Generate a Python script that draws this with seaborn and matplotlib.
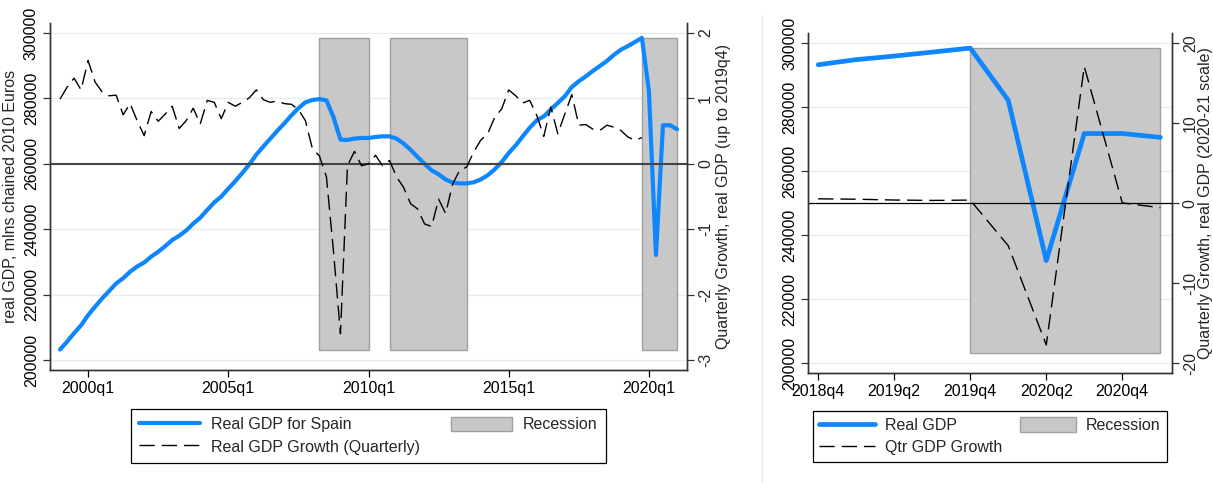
import numpy as np
import pandas as pd
import matplotlib
matplotlib.use("Agg")
import matplotlib.pyplot as plt
from matplotlib.patches import Patch
from matplotlib.lines import Line2D
import seaborn as sns

# ---------------- data ----------------
first_quarter = "1999q1"
gdp = [203200, 205600, 208200, 210600,
       213700, 216300, 218800, 221100,
       223400, 225000, 227000, 228600,
       229800, 231600, 233100, 234800,
       236700, 238000, 239600, 241700,
       243500, 245900, 248200, 250000,
       252400, 254700, 257200, 259800,
       262800, 265300, 267700, 270100,
       272400, 274800, 277000, 278800,
       279500, 279800, 279400, 274300,
       267400, 267300, 267700, 267900,
       267900, 268200, 268400, 268400,
       267700, 266200, 264300, 262100,
       260000, 258000, 256800, 255200,
       254250, 254000, 254000, 254350,
       255200, 256500, 258300, 260550,
       263300, 265650, 268400, 271050,
       273300, 274500, 276600, 278600,
       280650, 283500, 285250, 286750,
       288400, 289900, 291450, 293300,
       294900, 296000, 297250, 298500,
       282200, 232100, 271800, 271800,
       270600]
growth = [0.99, 1.17, 1.31, 1.13,
          1.58, 1.25, 1.10, 1.04,
          1.05, 0.75, 0.92, 0.66,
          0.43, 0.80, 0.65, 0.76,
          0.88, 0.54, 0.66, 0.85,
          0.61, 0.97, 0.94, 0.69,
          0.94, 0.88, 0.94, 1.01,
          1.13, 0.98, 0.94, 0.96,
          0.92, 0.91, 0.83, 0.66,
          0.23, 0.12, -0.20, -1.33,
          -2.60, -0.03, 0.19, -0.03,
          0.00, 0.13, -0.03, 0.05,
          -0.20, -0.36, -0.61, -0.69,
          -0.92, -0.96, -0.54, -0.76,
          -0.31, -0.10, -0.05, 0.18,
          0.36, 0.46, 0.71, 0.84,
          1.13, 1.04, 0.93, 0.97,
          0.74, 0.42, 0.87, 0.46,
          0.76, 1.06, 0.59, 0.60,
          0.53, 0.51, 0.59, 0.56,
          0.51, 0.41, 0.36, 0.40,
          -5.30, -17.70, 17.10, 0.05,
          -0.55]
recessions = [("2008q2", "2010q1"), ("2010q4", "2013q3"), ("2019q4", "2021q1")]
left_growth_end = "2019q4"
right_start = "2018q4"

left_xticks = ["2000q1", "2005q1", "2010q1", "2015q1", "2020q1"]
right_xticks = ["2018q4", "2019q2", "2019q4", "2020q2", "2020q4"]
gdp_ticks = [200000, 220000, 240000, 260000, 280000, 300000]
left_growth_ticks = [-3, -2, -1, 0, 1, 2]
right_growth_ticks = [-20, -10, 0, 10, 20]

left_ylabel = "real GDP, mlns chained 2010 Euros"
left_y2label = "Quarterly Growth, real GDP (up to 2019q4)"
right_y2label = "Quarterly Growth, real GDP (2020-21 scale)"
left_legend = ["Real GDP for Spain", "Real GDP Growth (Quarterly)", "Recession"]
right_legend = ["Real GDP", "Qtr GDP Growth", "Recession"]


def qnum(s):
    y, q = s.split("q")
    return (int(y) - 1960) * 4 + int(q) - 1


# ---------------- style ----------------
sns.set_theme(style="white")
plt.rcParams["font.family"] = ["Liberation Sans", "DejaVu Sans"]
FS = 11.5
plt.rcParams["font.size"] = FS

BLUE = "#0E86FE"
BAR_FC = "#C8C8C8"
BAR_EC = "#A0A0A0"
GRID = "#E4EEF1"
SPINE = "#333333"
DASH = (0, (11, 5))

df = pd.DataFrame({"q": qnum(first_quarter) + np.arange(len(gdp)),
                   "gdp": gdp, "growth": growth})
lo, hi = min(gdp), max(gdp)

fig = plt.figure(figsize=(12.13, 4.83), dpi=100)
W, H = 1213, 483


def style_axes(ax, ax2):
    for a in (ax, ax2):
        a.spines["top"].set_visible(False)
        for s in ("left", "right", "bottom"):
            a.spines[s].set_color(SPINE)
            a.spines[s].set_linewidth(1.0)
    ax.tick_params(axis="both", which="both", bottom=True, left=True,
                   direction="out", length=5, width=0.9, color=SPINE,
                   pad=3, labelsize=FS, colors="black")
    ax.tick_params(axis="x", colors="black")
    ax2.tick_params(axis="y", right=True, direction="out", length=5, width=0.9,
                    color=SPINE, pad=3, labelsize=FS)
    ax.tick_params(axis="y", labelrotation=90)
    ax2.tick_params(axis="y", labelrotation=90)
    for lab in ax.get_yticklabels() + ax2.get_yticklabels():
        lab.set_va("center")
    ax.grid(True, axis="y", color=GRID, lw=1.0)
    ax.grid(False, axis="x")
    ax2.grid(False)
    ax.set_axisbelow(True)
    ax.set_xlabel("")


def draw_panel(rect, data, growth_data, xlim, xticks, ylim, g_ticks, g_scale,
               g_center, ylabel, y2label, y2pad, legend_labels, lw_blue,
               zero_kw, leg_kw):
    ax = fig.add_axes(rect)
    ax2 = ax.twinx()
    for s, e in recessions:
        ax.fill_between([qnum(s), qnum(e)], lo, hi, facecolor=BAR_FC,
                        edgecolor=BAR_EC, lw=1.0, zorder=1)
    sns.lineplot(data=data, x="q", y="gdp", ax=ax, color=BLUE, lw=lw_blue,
                 zorder=3)
    sns.lineplot(data=growth_data, x="q", y="growth", ax=ax2, color="black",
                 lw=1.0, linestyle=DASH, zorder=3)
    ax2.axhline(0, zorder=2, **zero_kw)
    ax.set_xlim(*xlim)
    ax.set_ylim(*ylim)
    ax2.set_ylim((ylim[0] - g_center) / g_scale, (ylim[1] - g_center) / g_scale)
    ax.set_xticks([qnum(t) for t in xticks], xticks)
    ax.set_yticks(gdp_ticks, [str(v) for v in gdp_ticks])
    ax2.set_yticks(g_ticks, [str(v) for v in g_ticks])
    ax.set_ylabel(ylabel, fontsize=FS, labelpad=4)
    ax2.set_ylabel(y2label, fontsize=FS, labelpad=y2pad)
    style_axes(ax, ax2)
    handles = [Line2D([], [], color=BLUE, lw=lw_blue),
               Line2D([], [], color="black", lw=1.0, linestyle=DASH),
               Patch(facecolor=BAR_FC, edgecolor=BAR_EC, lw=1.0)]
    leg = ax2.legend(handles, legend_labels, loc="upper center", ncol=2,
                     bbox_to_anchor=(0.5, -0.112), borderaxespad=0,
                     fancybox=False, framealpha=1, edgecolor="black",
                     fontsize=FS, handleheight=1.0, labelspacing=0.42,
                     **leg_kw)
    leg.get_frame().set_linewidth(0.9)
    return ax, ax2


# left panel
left_rect = [50 / W, 113 / H, 637 / W, 347 / H]
gl = df[df.q <= qnum(left_growth_end)]
draw_panel(left_rect, df, gl, (154.57, 245.43), left_xticks,
           (196940, 303060), left_growth_ticks, 20000, 260000,
           left_ylabel, left_y2label, 2, left_legend, 3.0,
           dict(color="#444444", lw=1.5),
           dict(handlelength=3.8, handletextpad=0.7, columnspacing=1.95,
                borderpad=0.5))

# right panel
right_rect = [808.3 / W, 110 / H, 363.4 / W, 339.7 / H]
dr = df[df.q >= qnum(right_start)]
draw_panel(right_rect, dr, dr, (234.74, 244.3), right_xticks,
           (196970, 303125), right_growth_ticks, 2500, 250000,
           "", right_y2label, 0, right_legend, 3.4,
           dict(color="black", lw=0.9),
           dict(handlelength=3.5, handletextpad=0.62, columnspacing=1.1,
                borderpad=0.4))

# faint separator between the two combined graphs
fig.add_artist(Line2D([762 / W, 762 / W], [0, 1 - 15 / H],
                      transform=fig.transFigure, color="#E4EAEC", lw=0.8))

fig.savefig("out.png", dpi=100, facecolor="white")
